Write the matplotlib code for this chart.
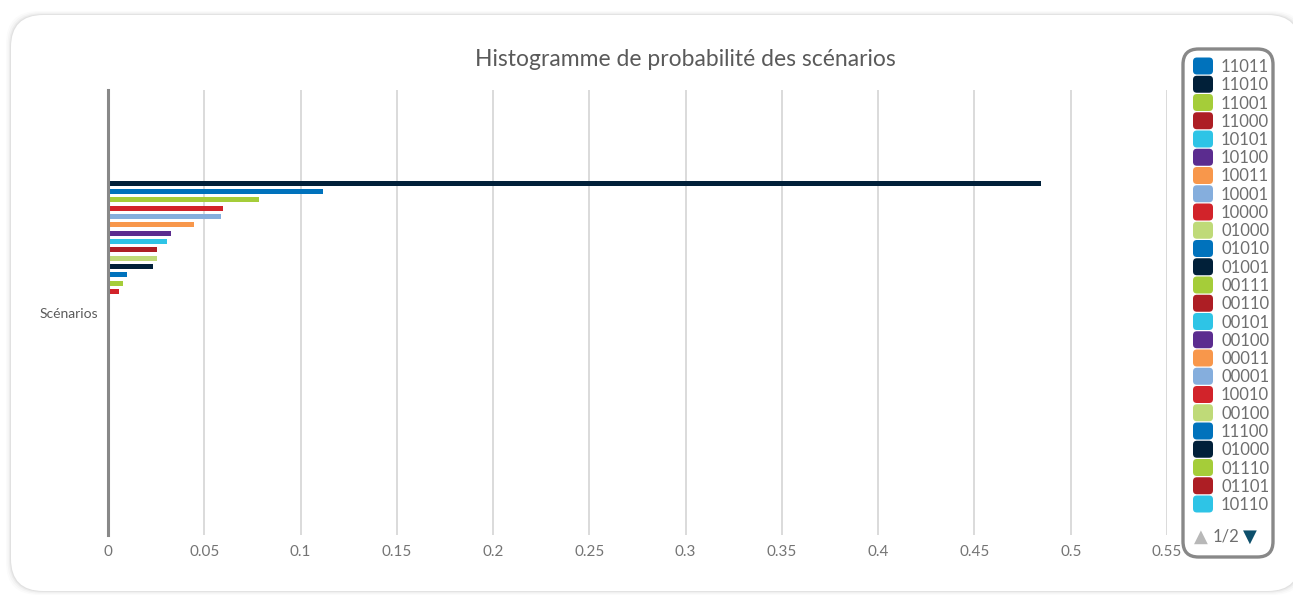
import matplotlib
matplotlib.use("Agg")
import matplotlib.pyplot as plt
from matplotlib.patches import FancyBboxPatch

plt.rcParams["font.family"] = ["Lato", "DejaVu Sans"]

# --------------------------------------------------------------------------- #
# Data
# --------------------------------------------------------------------------- #
PALETTE = ["#0072BC", "#012039", "#A5CD39", "#AD1E24", "#2EC4E6",
           "#5B2C8F", "#F8974B", "#85AEDD", "#D2232A", "#BFDA78"]

CATEGORY = "Scénarios"

# probability of each scenario, one bar per series (sorted, largest first)
bar_values = [0.4848, 0.1116, 0.0782, 0.0598, 0.0585, 0.0446, 0.0329,
              0.0309, 0.0256, 0.0252, 0.0232, 0.0097, 0.0080, 0.0059]
bar_colors = ["#012039", "#0072BC", "#A5CD39", "#D2232A", "#85AEDD",
              "#F8974B", "#5B2C8F", "#2EC4E6", "#AD1E24", "#BFDA78",
              "#012039", "#0072BC", "#A5CD39", "#D2232A"]
N_SERIES = 32  # series slots in the group, the rest are empty

# first legend page
legend_labels = ["11011", "11010", "11001", "11000", "10101", "10100", "10011",
                 "10001", "10000", "01000", "01010", "01001", "00111", "00110",
                 "00101", "00100", "00011", "00001", "10010", "00100", "11100",
                 "01000", "01110", "01101", "10110"]
legend_colors = [PALETTE[i % len(PALETTE)] for i in range(len(legend_labels))]

x_ticks = [0, 0.05, 0.1, 0.15, 0.2, 0.25, 0.3, 0.35, 0.4, 0.45, 0.5, 0.55]
x_ticklabels = ["0", "0.05", "0.1", "0.15", "0.2", "0.25", "0.3", "0.35",
                "0.4", "0.45", "0.5", "0.55"]

W, H = 1293, 596
fig = plt.figure(figsize=(W / 100, H / 100), dpi=100)
fig.patch.set_facecolor("white")


def fx(px):
    return px / W


def fy(py):
    return 1 - py / H


# card with soft shadow
for off, a in [(10, 0.015), (7, 0.025), (4, 0.035), (2, 0.045)]:
    fig.patches.append(FancyBboxPatch(
        (fx(11 - off * 0.5), fy(591 + off * 0.4)),
        fx(1300 - 11 + off), (576 + off * 0.8) / H,
        boxstyle="round,pad=0,rounding_size=0.025", transform=fig.transFigure,
        facecolor="black", edgecolor="none", alpha=a, zorder=0,
        mutation_aspect=W / H))
fig.patches.append(FancyBboxPatch(
    (fx(11), fy(591)), fx(1300 - 11), 576 / H,
    boxstyle="round,pad=0,rounding_size=0.025", transform=fig.transFigure,
    facecolor="white", edgecolor="none", zorder=1, mutation_aspect=W / H))

# plot area
ax = fig.add_axes([fx(108), fy(535), fx(1167 - 108), 445 / H])
ax.set_facecolor("none")
ax.set_zorder(2)

group_pad = 0.2
slot = (1 - 2 * group_pad) / N_SERIES
ypos = [-0.5 + group_pad + (i + 0.5) * slot for i in range(len(bar_values))]
ax.barh(ypos, bar_values, height=5 / 445, color=bar_colors, zorder=3)

ax.set_xlim(0, 0.55)
ax.set_ylim(0.5, -0.5)
ax.set_xticks(x_ticks)
ax.set_xticklabels(x_ticklabels)
ax.set_yticks([0])
ax.set_yticklabels([CATEGORY])
ax.tick_params(axis="x", length=0, pad=7, labelsize=11, labelcolor="#747474")
ax.tick_params(axis="y", length=0, pad=7, labelsize=10, labelcolor="#5a5a5a")
ax.grid(axis="x", color="#d4d4d4", linewidth=1.2, zorder=0)
for side in ["top", "right", "bottom"]:
    ax.spines[side].set_visible(False)
ax.spines["left"].set_color("#888888")
ax.spines["left"].set_linewidth(2.2)
ax.spines["left"].set_zorder(4)

fig.text(fx(685), fy(60), "Histogramme de probabilité des scénarios",
         ha="center", va="center", fontsize=16.5, color="#5a5a5a", zorder=5)

# legend box, first page
fig.patches.append(FancyBboxPatch(
    (fx(1183), fy(557)), fx(1273 - 1183), (557 - 49) / H,
    boxstyle="round,pad=0,rounding_size=0.012", transform=fig.transFigure,
    facecolor="white", edgecolor="#888888", linewidth=2.4, zorder=3,
    mutation_aspect=W / H))
row = 18.25
for i, (lab, col) in enumerate(zip(legend_labels, legend_colors)):
    yc = 66 + i * row
    fig.patches.append(FancyBboxPatch(
        (fx(1193), fy(yc + 8.5)), fx(20), 17 / H,
        boxstyle="round,pad=0,rounding_size=0.003", transform=fig.transFigure,
        facecolor=col, edgecolor="none", zorder=4, mutation_aspect=W / H))
    fig.text(fx(1221), fy(yc + 1), lab, ha="left", va="center", fontsize=12,
             color="#6e6e6e", zorder=5)

# pager
fig.text(fx(1201), fy(537), "▲", ha="center", va="center", fontsize=13,
         color="#b8b8b8", family="DejaVu Sans", zorder=5)
fig.text(fx(1226), fy(536), "1/2", ha="center", va="center", fontsize=12,
         color="#6e6e6e", zorder=5)
fig.text(fx(1250), fy(537), "▼", ha="center", va="center", fontsize=13,
         color="#0d4f6b", family="DejaVu Sans", zorder=5)

fig.savefig("out.png", dpi=100)
